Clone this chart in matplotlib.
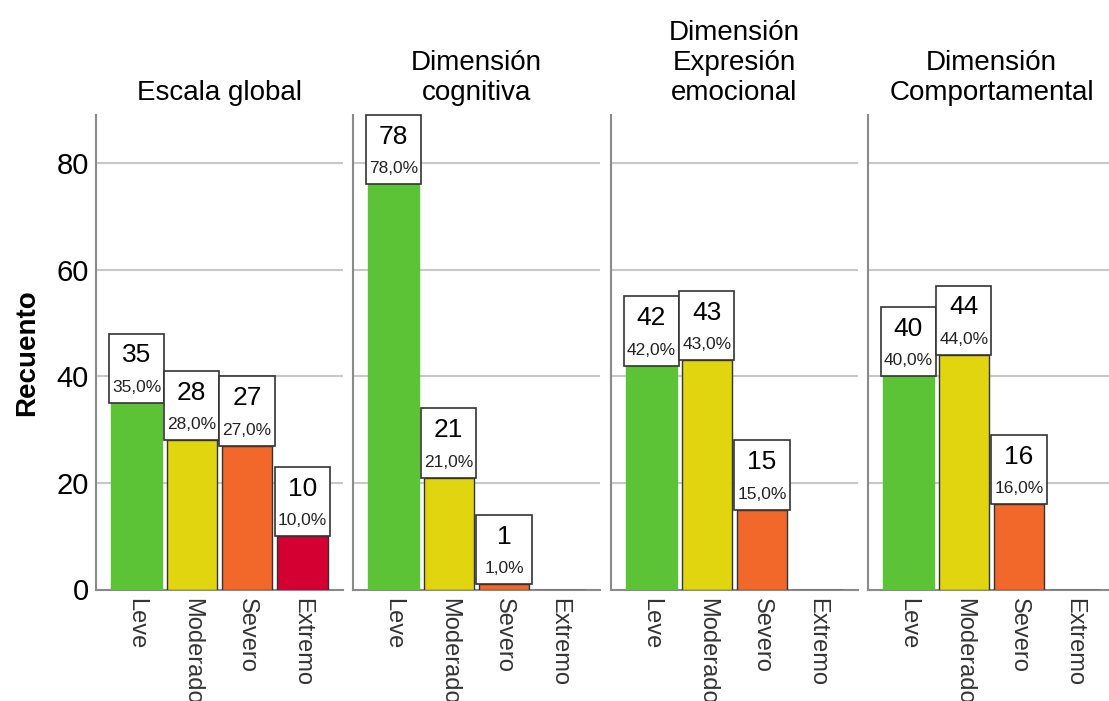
import matplotlib
matplotlib.use("Agg")
import matplotlib.pyplot as plt
from matplotlib.patches import Rectangle

plt.rcParams['font.family'] = ['Liberation Sans', 'DejaVu Sans']

categories = ['Leve', 'Moderado', 'Severo', 'Extremo']
titles = ['Escala global', 'Dimensión\ncognitiva', 'Dimensión\nExpresión\nemocional',
          'Dimensión\nComportamental']
counts = [
    [35, 28, 27, 10],
    [78, 21, 1, 0],
    [42, 43, 15, 0],
    [40, 44, 16, 0],
]
total = 100
colors = ['#5cc236', '#e1d510', '#f2682a', '#d50032']
edges = ['#5cc236', '#333333', '#333333', '#333333']
yticks = [0, 20, 40, 60, 80]

W, H = 1109, 701
fig = plt.figure(figsize=(W / 100, H / 100), dpi=100)

lefts = [96, 353, 611, 868]
top_px, bot_px = 115, 589.5
ymax = 89
box_h = 13.0

for k, left in enumerate(lefts):
    ax = fig.add_axes([left / W, 1 - bot_px / H, 247 / W, (bot_px - top_px) / H])
    x = list(range(len(categories)))
    vals = counts[k]
    ax.bar(x, vals, width=0.91, color=colors, edgecolor=edges, linewidth=1.0, zorder=3)
    ax.set_xlim(-0.732, 3.734)
    ax.set_ylim(0, ymax)
    ax.set_yticks(yticks)
    ax.grid(axis='y', color='#c8c8c8', linewidth=1.5, zorder=0)
    ax.set_axisbelow(True)
    for s in ['top', 'right']:
        ax.spines[s].set_visible(False)
    for s in ['left', 'bottom']:
        ax.spines[s].set_color('#8a8a8a')
        ax.spines[s].set_linewidth(1.5)
    ax.set_xticks(x)
    ax.set_xticklabels(categories, rotation=270, fontsize=17, color='#333333',
                       va='top', ha='center')
    ax.tick_params(axis='both', length=0)
    ax.tick_params(axis='x', pad=6)
    if k == 0:
        ax.tick_params(axis='y', labelsize=21, pad=5)
        ax.set_ylabel('Recuento', fontsize=20, fontweight='bold', labelpad=12)
    else:
        ax.tick_params(axis='y', labelleft=False)
    ax.set_title(titles[k], fontsize=20, pad=11, linespacing=1.2)

    for i, v in enumerate(vals):
        if v == 0:
            continue
        b0 = v
        if b0 + box_h > ymax:
            b0 = ymax - box_h
        ax.add_patch(Rectangle((i - 0.5, b0), 1.0, box_h, facecolor='white',
                               edgecolor='#333333', linewidth=1.2, zorder=4, clip_on=False))
        ax.text(i, b0 + 8.9, f"{v}", ha='center', va='center', fontsize=19, zorder=5)
        pct = f"{100 * v / total:.1f}%".replace('.', ',')
        ax.text(i, b0 + 2.9, pct, ha='center', va='center', fontsize=12.5,
                color='#222222', zorder=5)

fig.savefig('out.png', dpi=100)
